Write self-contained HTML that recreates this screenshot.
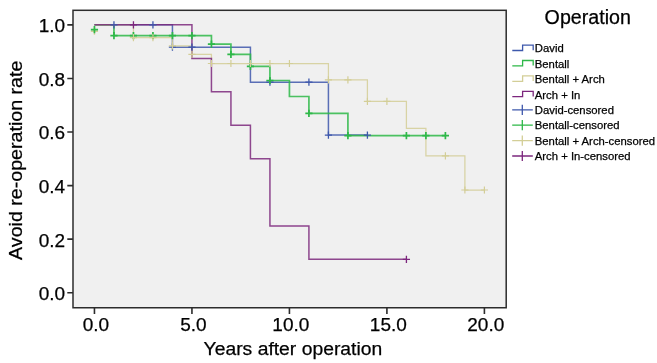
<!DOCTYPE html>
<html><head><meta charset="utf-8"><title>Avoid re-operation rate</title>
<style>html,body{margin:0;padding:0;background:#fff;}body{width:657px;height:363px;overflow:hidden;}svg{display:block;}</style>
</head><body>
<svg width="657" height="363" viewBox="0 0 657 363">
<defs><filter id="soft" x="-5%" y="-5%" width="110%" height="110%"><feGaussianBlur stdDeviation="0.55"/></filter><filter id="tsoft" x="-5%" y="-5%" width="110%" height="110%"><feGaussianBlur stdDeviation="0.22"/></filter></defs>
<rect x="0" y="0" width="657" height="363" fill="#ffffff"/>
<rect x="73.0" y="10.3" width="433.2" height="297.45" fill="#f0f0f0" stroke="#2c2c2c" stroke-width="1.5"/>
<path d="M67.3,292.75H73.0M67.3,239.17H73.0M67.3,185.59H73.0M67.3,132.01H73.0M67.3,78.43H73.0M67.3,24.85H73.0M94.45,307.7V313.9M191.94,307.7V313.9M289.43,307.7V313.9M386.91,307.7V313.9M484.4,307.7V313.9" stroke="#2c2c2c" stroke-width="1.6" fill="none"/>
<g filter="url(#soft)">
<path d="M94.45,24.85H172.44V47.15H250.43V82.15H328.42V135.1H367.41" stroke="#3E58AC" stroke-width="1.5" stroke-opacity="0.85" fill="none"/>
<path d="M94.45,24.85H113.95V35.65H211.44V44.1H230.93V54.4H250.43V66.3H269.93V80.5H289.43V96.5H308.92V113.3H347.92V135.6H445.4" stroke="#2EB848" stroke-width="1.7" stroke-opacity="0.85" fill="none"/>
<path d="M94.45,24.85H133.44V37.7H172.44V45.8H191.94V54.4H211.44V63.5H328.42V79.8H367.41V101.3H406.41V128.4H425.91V155.85H464.9V190.0H484.4" stroke="#D3CE97" stroke-width="1.25" stroke-opacity="0.85" fill="none"/>
<path d="M94.45,24.85H191.94V58.4H211.44V91.8H230.93V125.3H250.43V158.8H269.93V225.95H308.92V259.35H406.41" stroke="#7C287D" stroke-width="1.5" stroke-opacity="0.85" fill="none"/>
<path d="M90.85,31.2H98.05M94.45,27.6V34.8" stroke="#D3CE97" stroke-width="1.4" fill="none"/>
<path d="M110.35,24.85H117.55M113.95,21.25V28.45M149.34,24.85H156.54M152.94,21.25V28.45M168.84,47.15H176.04M172.44,43.55V50.75M188.34,47.15H195.54M191.94,43.55V50.75M266.33,82.15H273.53M269.93,78.55V85.75M305.32,82.15H312.52M308.92,78.55V85.75M324.82,135.1H332.02M328.42,131.5V138.7M363.81,135.1H371.01M367.41,131.5V138.7" stroke="#3E58AC" stroke-width="1.3" fill="none"/>
<path d="M90.85,29.7H98.05M94.45,26.1V33.3M110.35,35.65H117.55M113.95,32.05V39.25M129.84,35.65H137.04M133.44,32.05V39.25M149.34,35.65H156.54M152.94,32.05V39.25M168.84,35.65H176.04M172.44,32.05V39.25M188.34,35.65H195.54M191.94,32.05V39.25M207.84,44.1H215.04M211.44,40.5V47.7M227.33,54.4H234.53M230.93,50.8V58.0M246.83,66.3H254.03M250.43,62.7V69.9M266.33,80.5H273.53M269.93,76.9V84.1M305.32,113.3H312.52M308.92,109.7V116.9M344.32,135.6H351.52M347.92,132.0V139.2M402.81,135.6H410.01M406.41,132.0V139.2M422.31,135.6H429.51M425.91,132.0V139.2M441.8,135.6H449.0M445.4,132.0V139.2" stroke="#2EB848" stroke-width="1.7" fill="none"/>
<path d="M129.84,37.7H137.04M133.44,34.1V41.3M149.34,37.7H156.54M152.94,34.1V41.3M168.84,45.8H176.04M172.44,42.2V49.4M188.34,54.4H195.54M191.94,50.8V58.0M207.84,63.5H215.04M211.44,59.9V67.1M227.33,63.5H234.53M230.93,59.9V67.1M246.83,63.5H254.03M250.43,59.9V67.1M266.33,63.5H273.53M269.93,59.9V67.1M285.83,63.5H293.03M289.43,59.9V67.1M324.82,79.8H332.02M328.42,76.2V83.4M344.32,79.8H351.52M347.92,76.2V83.4M363.81,101.3H371.01M367.41,97.7V104.9M383.31,101.3H390.51M386.91,97.7V104.9M441.8,155.85H449.0M445.4,152.25V159.45M461.3,190.0H468.5M464.9,186.4V193.6M480.8,190.0H488.0M484.4,186.4V193.6" stroke="#D3CE97" stroke-width="1.2" fill="none"/>
<path d="M129.84,24.85H137.04M133.44,21.25V28.45M402.81,259.35H410.01M406.41,255.75V262.95" stroke="#7C287D" stroke-width="1.3" fill="none"/>
</g>
<g font-family="Liberation Sans, Arial, Helvetica, sans-serif" fill="#000" stroke="#000" stroke-width="0.25" filter="url(#tsoft)">
<text x="65.2" y="300.15" font-size="19.0" text-anchor="end">0.0</text>
<text x="65.2" y="246.57" font-size="19.0" text-anchor="end">0.2</text>
<text x="65.2" y="192.99" font-size="19.0" text-anchor="end">0.4</text>
<text x="65.2" y="139.41" font-size="19.0" text-anchor="end">0.6</text>
<text x="65.2" y="85.83" font-size="19.0" text-anchor="end">0.8</text>
<text x="65.2" y="32.25" font-size="19.0" text-anchor="end">1.0</text>
<text x="95.85" y="331.2" font-size="19.0" text-anchor="middle">0.0</text>
<text x="193.34" y="331.2" font-size="19.0" text-anchor="middle">5.0</text>
<text x="290.83" y="331.2" font-size="19.0" text-anchor="middle">10.0</text>
<text x="388.31" y="331.2" font-size="19.0" text-anchor="middle">15.0</text>
<text x="485.8" y="331.2" font-size="19.0" text-anchor="middle">20.0</text>
<text x="203.6" y="355.1" font-size="18.9" textLength="178.6" lengthAdjust="spacingAndGlyphs">Years after operation</text>
<text transform="translate(22.0,259.9) rotate(-90)" font-size="19.0" textLength="199.3" lengthAdjust="spacingAndGlyphs">Avoid re-operation rate</text>
<text x="544.6" y="24.4" font-size="19.4" textLength="86.3" lengthAdjust="spacingAndGlyphs">Operation</text>
<text x="534.8" y="52.4" font-size="11.3">David</text>
<text x="534.8" y="67.8" font-size="11.3">Bentall</text>
<text x="534.8" y="83.2" font-size="11.3">Bentall + Arch</text>
<text x="534.8" y="98.6" font-size="11.3">Arch + In</text>
<text x="534.8" y="114.0" font-size="11.3">David-censored</text>
<text x="534.8" y="129.4" font-size="11.3">Bentall-censored</text>
<text x="534.8" y="144.8" font-size="11.3">Bentall + Arch-censored</text>
<text x="534.8" y="160.2" font-size="11.3">Arch + In-censored</text>
</g>
<g filter="url(#soft)">
<path d="M512.3,50.5H522.6V45.1H533.2V50.2" stroke="#3E58AC" stroke-width="1.3" fill="none"/>
<path d="M512.3,65.9H522.6V60.5H533.2V65.6" stroke="#2EB848" stroke-width="1.3" fill="none"/>
<path d="M512.3,81.3H522.6V75.9H533.2V81.0" stroke="#D3CE97" stroke-width="1.3" fill="none"/>
<path d="M512.3,96.7H522.6V91.3H533.2V96.4" stroke="#7C287D" stroke-width="1.3" fill="none"/>
<path d="M512.2,109.8H532.8M522.3,104.7V114.9" stroke="#3E58AC" stroke-width="1.3" fill="none"/>
<path d="M512.2,125.2H532.8M522.3,120.1V130.3" stroke="#2EB848" stroke-width="1.3" fill="none"/>
<path d="M512.2,140.6H532.8M522.3,135.5V145.7" stroke="#D3CE97" stroke-width="1.3" fill="none"/>
<path d="M512.2,156.0H532.8M522.3,150.9V161.1" stroke="#7C287D" stroke-width="1.3" fill="none"/>
</g>
</svg>
</body></html>
